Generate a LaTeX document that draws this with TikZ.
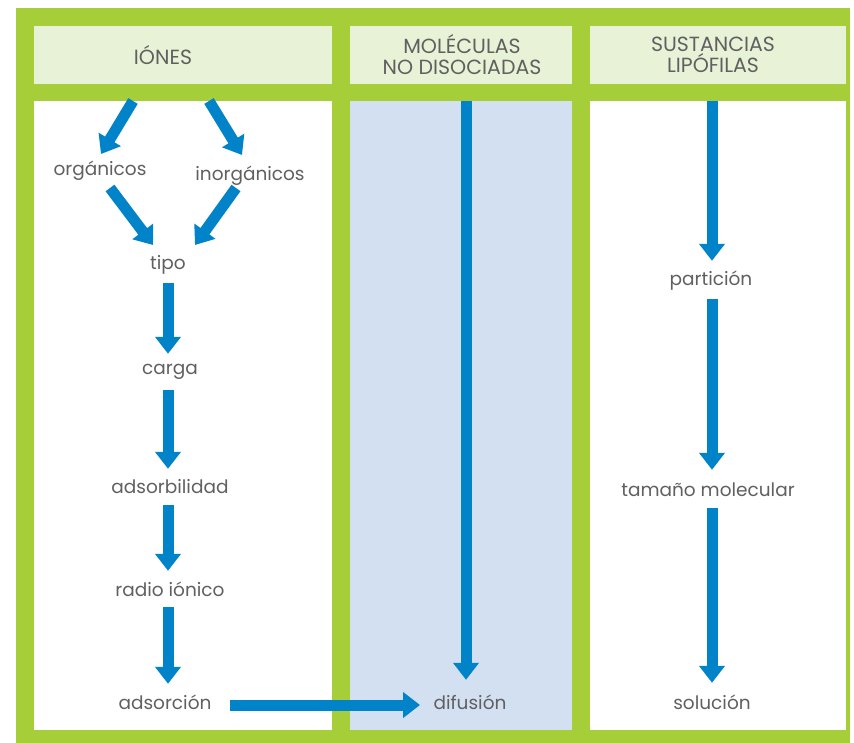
\documentclass[tikz,border=0pt]{standalone}
\usepackage{fontspec}
\setmainfont{Poppins}
\usetikzlibrary{arrows.meta,calc}
\definecolor{frame}{HTML}{A6CE39}
\definecolor{headfill}{HTML}{E8F2D6}
\definecolor{bluefill}{HTML}{D3E0F2}
\definecolor{arrowblue}{HTML}{0083C8}
\definecolor{txt}{HTML}{606060}
\tikzset{
  lbl/.style={text=txt, font=\fontsize{18.5}{20}\selectfont, minimum height=36pt, inner sep=0pt},
  headbox/.style={fill=headfill, inner sep=0pt, minimum height=58pt},
  head/.style={text=txt, font=\fontsize{20.5}{21}\selectfont, align=center, inner sep=0pt},
  body/.style={inner sep=0pt, minimum height=629pt},
  arr/.style={draw=arrowblue, line width=11pt, -{Triangle[width=25pt,length=17pt]}},
}
\begin{document}
\begin{tikzpicture}[x=1pt,y=-1pt]
\useasboundingbox (0,0) rectangle (854,743);
\fill[frame] (16,8) rectangle (850,742.5);
% header boxes
\node[headbox, minimum width=298pt] (h1) at (183,55) {};
\node[headbox, minimum width=222pt] (h2) at (461,55) {};
\node[headbox, minimum width=256pt] (h3) at (718,55) {};
\node[head] (t1) at (163,55) {IÓNES};
\node[head] (t2) at (462,55) {MOLÉCULAS\\NO DISOCIADAS};
\node[head] (t3) at (713,55) {SUSTANCIAS\\LIPÓFILAS};
% bodies
\node[body, fill=white, minimum width=298pt] (b1) at (183,415.5) {};
\node[body, fill=bluefill, minimum width=222pt] (b2) at (461,415.5) {};
\node[body, fill=white, minimum width=256pt] (b3) at (718,415.5) {};
% labels column 1
\node[lbl] (org) at (100,171) {orgánicos};
\node[lbl] (inorg) at (250,176) {inorgánicos};
\node[lbl] (tipo) at (168,265) {tipo};
\node[lbl] (carga) at (170,372) {carga};
\node[lbl] (adsb) at (170,487) {adsorbilidad};
\node[lbl] (radio) at (170,589) {radio iónico};
\node[lbl] (adsc) at (165,702) {adsorción};
% column 2
\node[lbl] (dif) at (470,702) {difusión};
% column 3
\node[lbl] (part) at (711,281) {partición};
\node[lbl] (tam) at (708,490) {tamaño molecular};
\node[lbl] (sol) at (712,702) {solución};
% free ends at top of body boxes
\coordinate (s1) at (133,101);
\coordinate (s2) at (209,101);
\coordinate (s3) at (466,101);
\coordinate (s4) at (712,101);
% arrows
\draw[arr] (s1) -- ($(org)+(1,-17)$);
\draw[arr] (s2) -- ($(inorg)+(-8,-21)$);
\draw[arr] ($(org)+(10,17)$) -- ($(tipo)+(-15,-20)$);
\draw[arr] ($(inorg)+(-14,12)$) -- ($(tipo)+(27,-20)$);
\draw[arr] (tipo.south) -- ($(carga.north)+(-2,0)$);
\draw[arr] ($(carga.south)+(-2,0)$) -- ($(adsb.north)+(-2,0)$);
\draw[arr] ($(adsb.south)+(-2,0)$) -- ($(radio.north)+(-2,0)$);
\draw[arr] ($(radio.south)+(-2,0)$) -- ($(adsc.north)+(3,0)$);
\draw[arr] (s3) -- ($(dif.north)+(-4,-4)$);
\draw[arr] (s4) -- ($(part.north)+(1,-2)$);
\draw[arr] ($(part.south)+(1,0)$) -- ($(tam.north)+(4,-2)$);
\draw[arr] ($(tam.south)+(4,0)$) -- ($(sol.north)+(0,-1)$);
\draw[arr] ($(adsc)+(65,3)$) -- ($(dif)+(-50,3)$);
\end{tikzpicture}
\end{document}
